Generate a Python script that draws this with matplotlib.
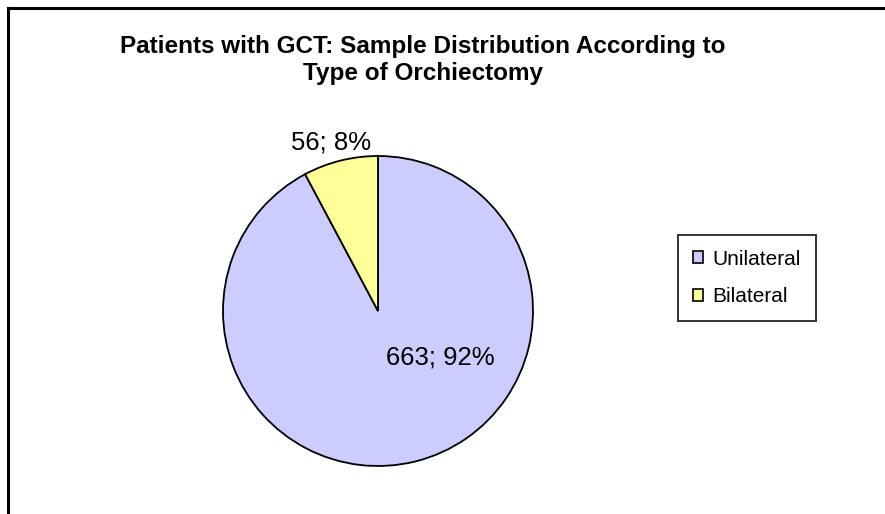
import matplotlib
matplotlib.use("Agg")
import matplotlib.pyplot as plt
from matplotlib.lines import Line2D
from matplotlib.patches import Patch

categories = ["Unilateral", "Bilateral"]
values = [663, 56]
percents = [92, 8]
colors = ["#CCCCFF", "#FFFF99"]
title = "Patients with GCT: Sample Distribution According to\nType of Orchiectomy"

plt.rcParams['font.family'] = ['Liberation Sans', 'DejaVu Sans']

W, H = 885, 514
fig = plt.figure(figsize=(W / 100, H / 100), dpi=100)

# outer frame (left and top visible)
fig.add_artist(Line2D([7.5 / W, 7.5 / W], [0, 1 - 7.5 / H], transform=fig.transFigure,
                      color="black", lw=2.2))
fig.add_artist(Line2D([7.5 / W, 1], [1 - 7.5 / H, 1 - 7.5 / H], transform=fig.transFigure,
                      color="black", lw=2.2))

cx, cy, r = 378, 311, 155
ax = fig.add_axes([(cx - r) / W, (H - cy - r) / H, 2 * r / W, 2 * r / H])
wedges, _ = ax.pie(values, colors=colors, startangle=90, counterclock=False,
                   wedgeprops=dict(edgecolor="black", linewidth=1.3))
ax.set_xlim(-1, 1)
ax.set_ylim(-1, 1)
ax.set_aspect("equal")
ax.axis("off")

label_pos = [(0.40, -0.30), (-0.30, 1.09)]
for v, p, (lx, ly) in zip(values, percents, label_pos):
    ax.text(lx, ly, f"{v}; {p}%", ha="center", va="center", fontsize=18.5, clip_on=False)

fig.text(423 / W, 1 - 60 / H, title, ha="center", va="center", fontsize=17.5,
         fontweight="bold", linespacing=1.25)

handles = [Patch(facecolor=c, edgecolor="black", linewidth=1.2) for c in colors]
leg = fig.legend(handles, categories, loc="center", bbox_to_anchor=(747 / W, 1 - 278 / H),
                 fontsize=15, frameon=True, fancybox=False, handlelength=0.5,
                 handleheight=0.5, handletextpad=0.45, labelspacing=0.9,
                 borderpad=0.7, borderaxespad=0)
leg.get_frame().set_edgecolor("black")
leg.get_frame().set_linewidth(1.4)

fig.savefig("out.png", dpi=100)
